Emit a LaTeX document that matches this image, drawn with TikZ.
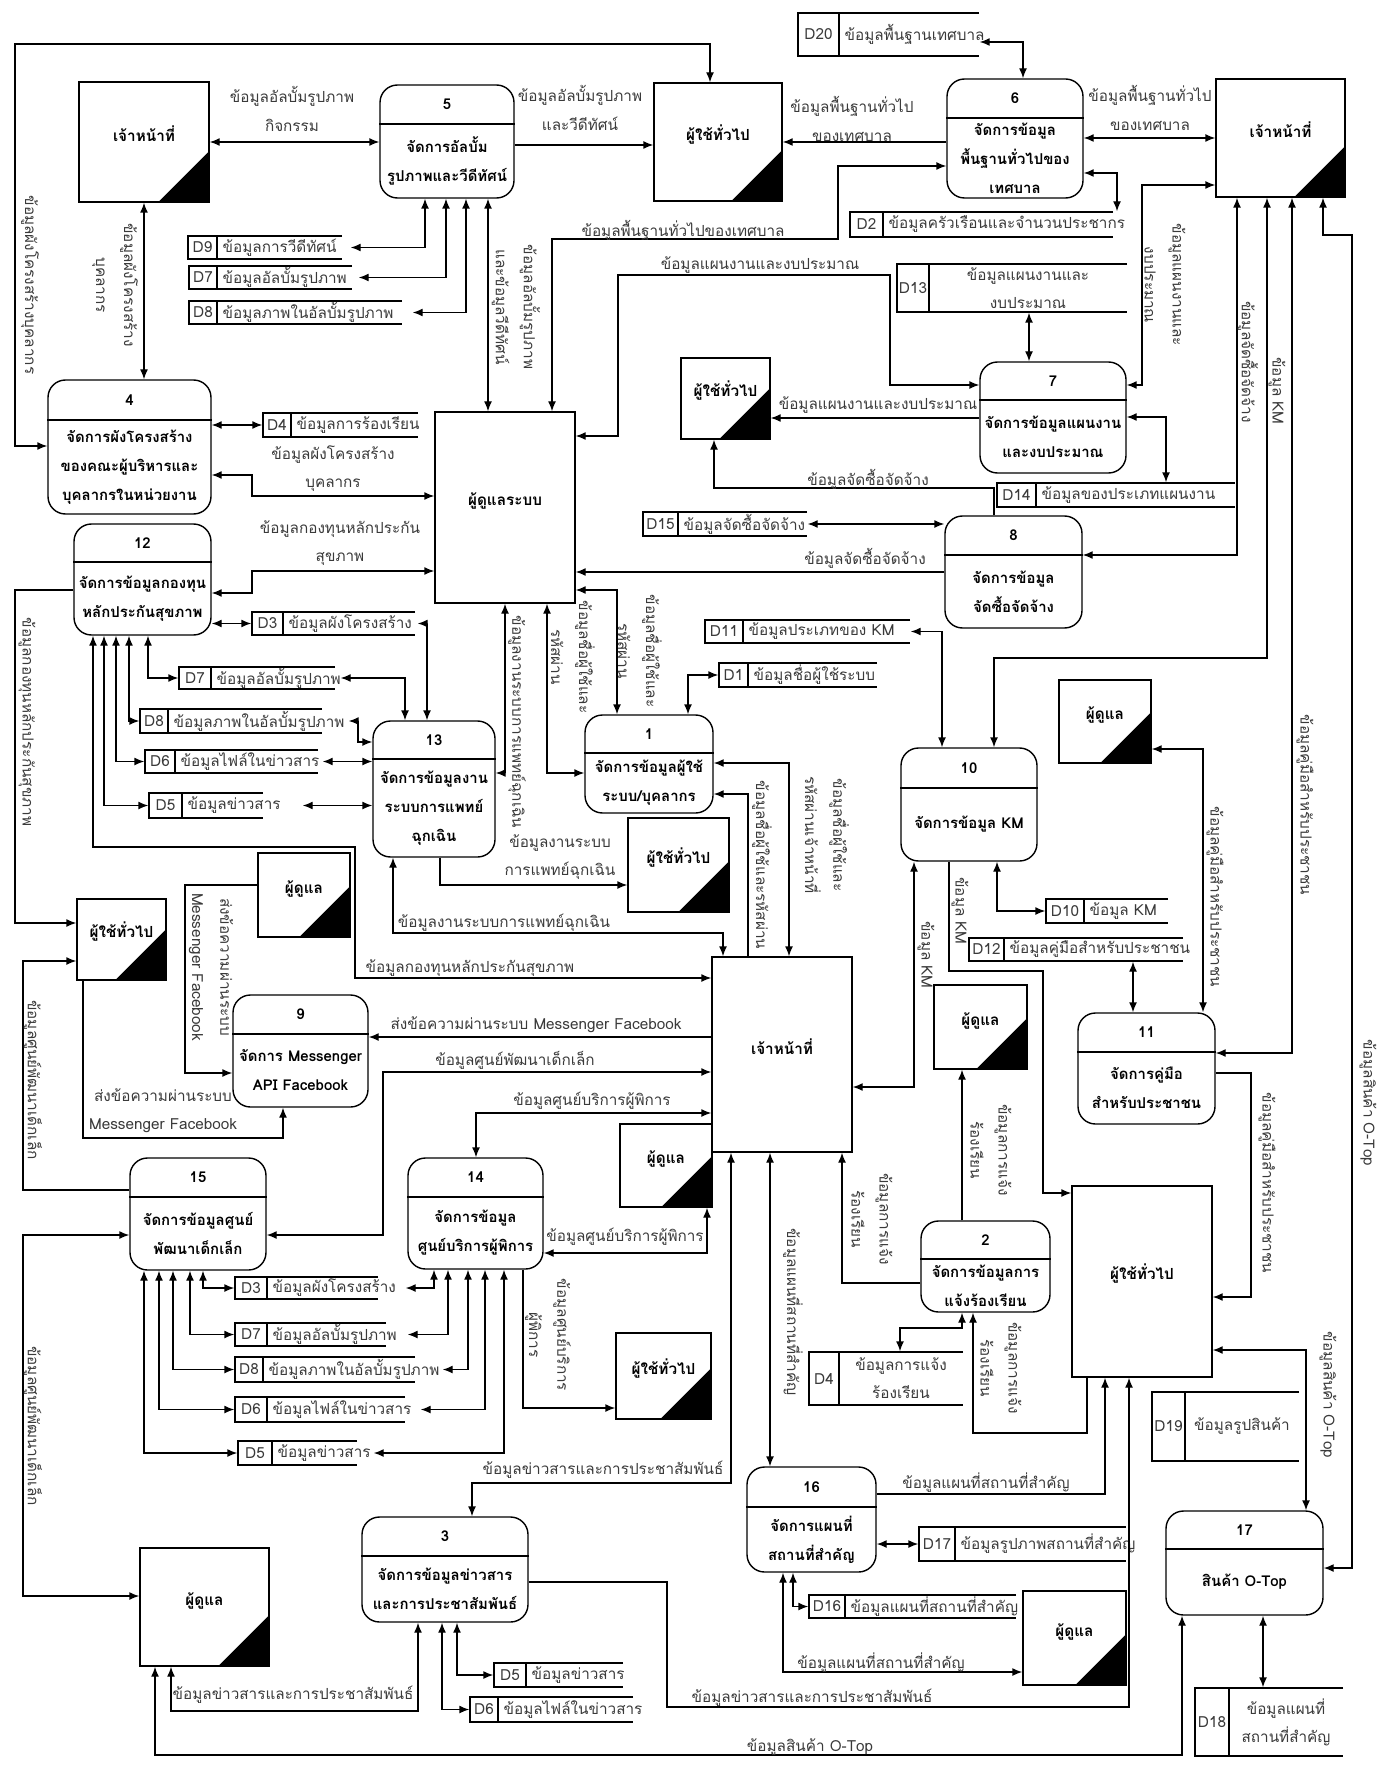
\documentclass[tikz,border=0pt]{standalone}
\usepackage{fontspec}
\newfontfamily\thaifont[Script=Thai]{Loma}
\usepackage{xcolor}
\usepackage{tikz}
\usetikzlibrary{positioning,arrows.meta,fit,calc}
\definecolor{clbl}{HTML}{3A3A3A}

\begin{document}
\begin{tikzpicture}[
  x=0.2mm, y=-0.2mm,
  font=\fontsize{8.7}{16}\selectfont\thaifont,
  line width=0.8pt,
  >={Latex[length=2mm,width=1.6mm]},
  one/.style={->},
  two/.style={<->},
  proc/.style={draw, rounded corners=3.5mm, inner sep=0pt},
  ent/.style={draw, inner sep=0pt, font=\fontsize{8.7}{16}\selectfont\thaifont\bfseries},
  ptxt/.style={align=center, inner sep=0pt, font=\fontsize{8.5}{16.5}\selectfont\thaifont\bfseries},
  lbl/.style={align=center, text=clbl, inner sep=1pt},
  vlbl/.style={lbl, rotate=-90},
  stxt/.style={text=clbl, inner sep=0pt, align=center},
]
\useasboundingbox (0,0) rectangle (1383,1765);

% --- external entities (black corner) ---
\foreach \nm/\xl/\yt/\xr/\yb/\txt in {
  e1/79/82/209/202/เจ้าหน้าที่, e2/654/83/782/201/ผู้ใช้ทั่วไป,
  e3/1216/79/1345/197/เจ้าหน้าที่, e4/681/358/770/439/ผู้ใช้ทั่วไป,
  e6/1059/680/1151/763/ผู้ดูแล, e7/628/818/729/912/ผู้ใช้ทั่วไป,
  e8/258/853/350/937/ผู้ดูแล, e9/77/899/166/980/ผู้ใช้ทั่วไป,
  e11/620/1124/712/1207/ผู้ดูแล, e12/934/985/1027/1069/ผู้ดูแล,
  e14/616/1333/711/1419/ผู้ใช้ทั่วไป, e15/140/1548/269/1666/ผู้ดูแล,
  e16/1023/1591/1126/1685/ผู้ดูแล}{
  \node[ent, fit={(\xl,\yt) (\xr,\yb)}] (\nm) {\txt};
  \fill (\nm.south east) -- ++(-52,0) -- ++(52,-52) -- cycle;
}
% --- plain boxes ---
\foreach \nm/\xl/\yt/\xr/\yb/\txt in {
  e5/435/412/575/603/ผู้ดูแลระบบ, e10/712/957/852/1152/เจ้าหน้าที่,
  e13/1072/1186/1212/1377/ผู้ใช้ทั่วไป}{
  \node[ent, fit={(\xl,\yt) (\xr,\yb)}] (\nm) {\txt};
}

% --- processes ---
\foreach \nm/\xl/\yt/\xr/\yb/\yd/\num/\txt in {
  p1/585/715/713/813/753/1/{จัดการข้อมูลผู้ใช้\\ระบบ\slash บุคลากร},
  p2/921/1221/1050/1312/1259/2/{จัดการข้อมูลการ\\แจ้งร้องเรียน},
  p3/362/1517/528/1622/1556/3/{จัดการข้อมูลข่าวสาร\\และการประชาสัมพันธ์},
  p4/48/380/211/514/420/4/{จัดการผังโครงสร้าง\\ของคณะผู้บริหารและ\\บุคลากรในหน่วยงาน},
  p5/380/85/514/198/124/5/{จัดการอัลบั้ม\\รูปภาพและวีดีทัศน์},
  p6/947/79/1083/198/118/6/{จัดการข้อมูล\\พื้นฐานทั่วไปของ\\เทศบาล},
  p7/980/362/1126/473/400/7/{จัดการข้อมูลแผนงาน\\และงบประมาณ},
  p8/945/516/1082/628/555/8/{จัดการข้อมูล\\จัดซื้อจัดจ้าง},
  p9/233/995/368/1107/1034/9/{จัดการ Messenger\\API Facebook},
  p10/901/748/1037/861/788/10/{จัดการข้อมูล KM},
  p11/1078/1013/1215/1124/1052/11/{จัดการคู่มือ\\สำหรับประชาชน},
  p12/74/524/211/635/562/12/{จัดการข้อมูลกองทุน\\หลักประกันสุขภาพ},
  p13/373/721/495/857/759/13/{จัดการข้อมูลงาน\\ระบบการแพทย์\\ฉุกเฉิน},
  p14/408/1158/543/1269/1197/14/{จัดการข้อมูล\\ศูนย์บริการผู้พิการ},
  p15/130/1158/266/1270/1197/15/{จัดการข้อมูลศูนย์\\พัฒนาเด็กเล็ก},
  p16/747/1467/876/1572/1507/16/{จัดการแผนที่\\สถานที่สำคัญ},
  p17/1166/1511/1323/1615/1549/17/{สินค้า O-Top}}{
  \node[proc, fit={(\xl,\yt) (\xr,\yb)}] (\nm) {};
  \draw (\nm.west |- 0,\yd) -- (\nm.east |- 0,\yd);
  \node[ptxt] (\nm-n) at ({(\xl+\xr)/2},{(\yt+\yd)/2}) {\num};
  \node[ptxt] (\nm-t) at ({(\xl+\xr)/2},{(\yd+\yb)/2}) {\txt};
}

% --- data stores, name after the bar ---
\foreach \nm/\xl/\yt/\xr/\yb/\xd/\id/\txt in {
  d20/798/13/979/56/839/D20/{ข้อมูลพื้นฐานเทศบาล},
  d9/188/236/342/259/217/D9/{ข้อมูลการวีดีทัศน์},
  d7a/189/266/352/289/217/D7/{ข้อมูลอัลบั้มรูปภาพ},
  d8a/189/301/402/324/217/D8/{ข้อมูลภาพในอัลบั้มรูปภาพ},
  d4a/263/413/418/437/291/D4/{ข้อมูลการร้องเรียน},
  d2/850/212/1113/237/883/D2/{ข้อมูลครัวเรือนและจำนวนประชากร},
  d14/997/483/1235/507/1036/D14/{ข้อมูลของประเภทแผนงาน},
  d15/643/512/807/536/678/D15/{ข้อมูลจัดซื้อจัดจ้าง},
  d3a/252/612/415/635/283/D3/{ข้อมูลผังโครงสร้าง},
  d7b/179/667/335/689/211/D7/{ข้อมูลอัลบั้มรูปภาพ},
  d8b/140/709/322/733/168/D8/{ข้อมูลภาพในอัลบั้มรูปภาพ},
  d6a/145/750/318/773/175/D6/{ข้อมูลไฟล์ในข่าวสาร},
  d5a/149/793/263/818/182/D5/{ข้อมูลข่าวสาร},
  d11/705/620/910/643/743/D11/{ข้อมูลประเภทของ KM},
  d1/719/663/877/687/748/D1/{ข้อมูลชื่อผู้ใช้ระบบ},
  d10/1046/899/1168/923/1084/D10/{ข้อมูล KM},
  d12/969/938/1183/961/1004/D12/{ข้อมูลคู่มือสำหรับประชาชน},
  d3b/235/1277/378/1299/267/D3/{ข้อมูลผังโครงสร้าง},
  d7c/235/1323/386/1346/267/D7/{ข้อมูลอัลบั้มรูปภาพ},
  d8c/235/1357/415/1382/263/D8/{ข้อมูลภาพในอัลบั้มรูปภาพ},
  d6b/235/1397/405/1422/267/D6/{ข้อมูลไฟล์ในข่าวสาร},
  d5b/238/1441/357/1465/272/D5/{ข้อมูลข่าวสาร},
  d17/919/1527/1126/1561/955/D17/{ข้อมูลรูปภาพสถานที่สำคัญ},
  d16/809/1595/1016/1618/845/D16/{ข้อมูลแผนที่สถานที่สำคัญ},
  d5c/494/1663/623/1687/526/D5/{ข้อมูลข่าวสาร},
  d6c/470/1697/633/1722/498/D6/{ข้อมูลไฟล์ในข่าวสาร}}{
  \node[inner sep=0pt, fit={(\xl,\yt) (\xr,\yb)}] (\nm) {};
  \draw (\xr,\yt) -- (\xl,\yt) -- (\xl,\yb) -- (\xr,\yb) (\xd,\yt) -- (\xd,\yb);
  \node[stxt] (\nm-i) at ({(\xl+\xd)/2},{(\yt+\yb)/2}) {\id};
  \node[stxt, anchor=west] (\nm-t) at ({\xd+5},{(\yt+\yb)/2}) {\txt};
}
% --- data stores, name centred ---
\foreach \nm/\xl/\yt/\xr/\yb/\xd/\id/\txt in {
  d13/897/264/1127/312/929/D13/{ข้อมูลแผนงานและ\\งบประมาณ},
  d4b/809/1352/963/1405/839/D4/{ข้อมูลการแจ้ง\\ร้องเรียน},
  d19/1152/1392/1299/1461/1185/D19/{ข้อมูลรูปสินค้า},
  d18/1195/1688/1343/1756/1229/D18/{ข้อมูลแผนที่\\สถานที่สำคัญ}}{
  \node[inner sep=0pt, fit={(\xl,\yt) (\xr,\yb)}] (\nm) {};
  \draw (\xr,\yt) -- (\xl,\yt) -- (\xl,\yb) -- (\xr,\yb) (\xd,\yt) -- (\xd,\yb);
  \node[stxt] (\nm-i) at ({(\xl+\xd)/2},{(\yt+\yb)/2}) {\id};
  \node[stxt] (\nm-t) at ({(\xd+\xr)/2},{(\yt+\yb)/2}) {\txt};
}

% --- top band ---
\draw[two] (p4.west |- 0,446) -- (15,446) |- (710,44) -- (e2.north -| 710,0);
\draw[two] (e1.east) -- (e1.east -| p5.west);
\draw[two] (e1.south) -- (e1.south |- p4.north);
\draw[one] (p5.east |- 0,145) -- (e2.west |- 0,145);
\draw[two] (p5.south -| 425,0) |- ([xshift=1.6mm]d9.east);
\draw[two] (p5.south -| 446,0) |- ([xshift=1.2mm]d7a.east);
\draw[two] (p5.south -| 466,0) |- ([xshift=2mm]d8a.east);
\draw[two] (p5.south -| 488,0) -- (e5.north -| 488,0);
\draw[one] (p6.west |- 0,142) -- (e2.east |- 0,142);
\draw[two] ([yshift=-1.5mm]d20.east) -| (p6.north -| 1023,0);
\draw[two] (p6.east |- 0,138) -- (e3.west |- 0,138);
\draw[two] (p6.east |- 0,173) -| (d2.north east -| 1117,0);
\draw[two] (e5.north -| 552,0) |- (838,239) |- (p6.west |- 0,166);
\draw[two] (e5.east |- 0,436) -| (618,275) -| (890,385) -- (p7.west |- 0,385);
\draw[one] (p7.west |- 0,418) -- (e4.east |- 0,418);
\draw[two] (d13.south -| 1029,0) -- (p7.north -| 1029,0);
\draw[two] (p7.east |- 0,385) -| (1142,185) -- (e3.west |- 0,185);
\draw[two] (p7.east |- 0,417) -| (d14.north -| 1166,0);

% --- lines down from e3 ---
\draw[two] (e3.south -| 1237,0) |- (p8.east |- 0,555);
\draw[two] (e3.south -| 1267,0) |- (994,658) -- (p10.north -| 994,0);
\draw[two] (e3.south -| 1292,0) |- (p11.east |- 0,1053);
\draw[two] (e3.south -| 1323,0) |- (1352,235) |- (p17.east |- 0,1568);

% --- middle ---
\draw[two] (d15.east) -- (d15.east -| p8.west);
\draw[one] (p8.north -| 994,0) |- (714,488) -- (e4.south -| 714,0);
\draw[one] (p8.west |- 0,572) -- (e5.east |- 0,572);
\draw[two] (e5.east |- 0,590) -| (p1.north -| 617,0);
\draw[two] (e5.south -| 547,0) |- (p1.west |- 0,773);
\draw[two] (d1.west) -| (p1.north -| 688,0);
\draw[two] (e5.south -| 505,0) |- (p13.east |- 0,773);
\draw[two] (d11.east) -| (p10.north -| 942,0);
\draw[one] (e10.north -| 748,0) |- (p1.east |- 0,794);
\draw[two] (e10.north -| 789,0) |- (p1.east |- 0,763);

% --- left ---
\draw[two] (p4.east |- d4a.west) -- (d4a.west);
\draw[two] (p4.east |- 0,475) -| (252,496) -- (e5.west |- 0,496);
\draw[two] (p12.east |- 0,593) -| (252,571) -- (e5.west |- 0,571);
\draw[two] (p12.east |- d3a.west) -- (d3a.west);
\draw[two] ([xshift=0.4mm]d3a.east) -| (p13.north -| 427,0);
\draw[two] ([xshift=1mm]d7b.east) -| (p13.north -| 405,0);
\draw[two] ([xshift=5.2mm]d8b.east) -| (358,742) -- (p13.west |- 0,742);
\draw[two] ([xshift=0.8mm]d6a.east) -- (p13.west |- d6a.east);
\draw[two] ([xshift=7.8mm]d5a.east) -- (p13.west |- d5a.east);
\draw[two] (p12.south -| 148,0) |- (d7b.west);
\draw[two] (p12.south -| 129,0) |- (d8b.west);
\draw[two] (p12.south -| 116,0) |- (d6a.west);
\draw[two] (p12.south -| 104,0) |- (d5a.west);
\draw[one] (p13.south -| 440,0) |- (e7.west |- 0,885);
\draw[two] (e10.north -| 723,0) |- (393,933) -- (p13.south -| 393,0);
\draw[two] (p12.south -| 93,0) |- (355,847) |- (e10.west |- 0,978);
\draw[one] (e8.west |- 0,885) -| (185,1073) -- (p9.west |- 0,1073);
\draw[one] (p12.west |- 0,590) -| (15,923) -- (e9.west |- 0,923);
\draw[one] (p15.west |- 0,1190) -| (23,961) -- (e9.west |- 0,961);
\draw[one] (e9.south -| 83,0) |- (283,1138) -- (p9.south -| 283,0);
\draw[one] (e10.west |- 0,1037) -- (p9.east |- 0,1037);
\draw[two] (e10.west |- 0,1072) -| (383,1235) -- (p15.east |- 0,1235);
\draw[two] (e10.west |- 0,1113) -| (p14.north -| 476,0);
\draw[two] (p14.east |- 0,1253) -| (e11.south -| 707,0);

% --- bottom ---
\draw[two] (e10.south -| 731,0) |- (472,1483) -- (p3.north -| 472,0);
\draw[two] (e10.south -| 770,0) -- (p16.north -| 770,0);
\draw[one] (p2.west |- 0,1283) -| (e10.south -| 842,0);
\draw[one] (p2.north -| 962,0) -- (e12.south -| 962,0);
\draw[one] (p10.south -| 949,0) |- (1043,971) |- (e13.west |- 0,1193);
\draw[two] (p10.south -| 997,0) |- (d10.west);
\draw[two] (p10.south -| 914,0) |- (e10.east |- 0,1087);
\draw[two] (d12.south -| 1133,0) -- (p11.north -| 1133,0);
\draw[two] (p11.north -| 1203,0) |- (e6.east |- 0,749);
\draw[one] (p11.east |- 0,1073) -| (1251,1297) -- (e13.east |- 0,1297);
\draw[two] (e13.east |- 0,1350) -| (p17.north -| 1306,0);
\draw[two] (p17.south -| 1263,0) -- (d18.north -| 1263,0);
\draw[two] (e15.south -| 155,0) |- (1182,1755) -- (p17.south -| 1182,0);
\draw[two] (p3.south -| 418,0) |- (171,1711) -- (e15.south -| 171,0);
\draw[two] (p15.west |- 0,1235) -| (23,1596) -- (e15.west |- 0,1596);
\draw[two] (p15.south -| 203,0) |- (d3b.west);
\draw[two] (p15.south -| 190,0) |- (d7c.west);
\draw[two] (p15.south -| 173,0) |- (d8c.west);
\draw[two] (p15.south -| 159,0) |- (d6b.west);
\draw[two] (p15.south -| 144,0) |- (d5b.west);
\draw[two] (p14.south -| 434,0) |- ([xshift=5.4mm]d3b.east);
\draw[two] (p14.south -| 448,0) |- ([xshift=4.2mm]d7c.east);
\draw[two] (p14.south -| 468,0) |- ([xshift=5.4mm]d8c.east);
\draw[two] (p14.south -| 485,0) |- ([xshift=3mm]d6b.east);
\draw[two] (p14.south -| 504,0) |- ([xshift=3.2mm]d5b.east);
\draw[one] (p14.south -| 523,0) |- (e14.west |- 0,1408);
\draw[two] (p3.south -| 457,0) |- (d5c.west);
\draw[two] (p3.south -| 442,0) |- (d6c.west);
\draw[one] (p3.east |- 0,1582) -| (667,1707) -| (e13.south -| 1129,0);
\draw[one] (p16.east |- 0,1494) -| (e13.south -| 1105,0);
\draw[two] (p16.east |- d17.west) -- (d17.west);
\draw[two] (p16.south -| 793,0) |- (d16.west);
\draw[two] (p16.south -| 783,0) |- (e16.west |- 0,1672);
\draw[two] (p2.south -| 962,0) |- (900,1328) -- (d4b.north -| 900,0);
\draw[one] (e13.south -| 1087,0) |- (973,1433) -- (p2.south -| 973,0);

% --- flow labels ---
\node[vlbl] (l1) at (30,285) {ข้อมูลผังโครงสร้างบุคลากร};
\node[lbl] (l2) at (292,109) {ข้อมูลอัลบั้มรูปภาพ\\กิจกรรม};
\node[vlbl] (l3) at (115,285) {ข้อมูลผังโครงสร้าง\\บุคลากร};
\node[lbl] (l4) at (580,108) {ข้อมูลอัลบั้มรูปภาพ\\และวีดีทัศน์};
\node[vlbl] (l8) at (516,307) {ข้อมูลอัลบั้มรูปภาพ\\และข้อมูลวีดีทัศน์};
\node[lbl] (l9) at (852,119) {ข้อมูลพื้นฐานทั่วไป\\ของเทศบาล};
\node[lbl] (l11) at (1150,108) {ข้อมูลพื้นฐานทั่วไป\\ของเทศบาล};
\node[lbl] (l13) at (683,230) {ข้อมูลพื้นฐานทั่วไปของเทศบาล};
\node[lbl] (l14) at (760,265) {ข้อมูลแผนงานและงบประมาณ};
\node[lbl] (l15) at (878,405) {ข้อมูลแผนงานและงบประมาณ};
\node[vlbl] (l17) at (1165,285) {ข้อมูลแผนงานและ\\งบประมาณ};
\node[vlbl] (l18) at (1248,362) {ข้อมูลจัดซื้อจัดจ้าง};
\node[vlbl] (l19) at (1277,391) {ข้อมูล KM};
\node[vlbl] (l20) at (1305,805) {ข้อมูลคู่มือสำหรับประชาชน};
\node[vlbl] (l21) at (1368,1103) {ข้อมูลสินค้า O-Top};
\node[lbl] (l22) at (868,479) {ข้อมูลจัดซื้อจัดจ้าง};
\node[lbl] (l23) at (865,558) {ข้อมูลจัดซื้อจัดจ้าง};
\node[vlbl] (l24) at (640,651) {ข้อมูลชื่อผู้ใช้และ\\รหัสผ่าน};
\node[vlbl] (l25) at (573,657) {ข้อมูลชื่อผู้ใช้และ\\รหัสผ่าน};
\node[vlbl] (l26) at (517,722) {ข้อมูลงานระบบการแพทย์ฉุกเฉิน};
\node[vlbl] (l27) at (762,865) {ข้อมูลชื่อผู้ใช้และรหัสผ่าน};
\node[vlbl] (l28) at (827,835) {ข้อมูลชื่อผู้ใช้และ\\รหัสผ่านเจ้าหน้าที่};
\node[lbl] (l29) at (560,857) {ข้อมูลงานระบบ\\การแพทย์ฉุกเฉิน};
\node[lbl] (l30) at (504,923) {ข้อมูลงานระบบการแพทย์ฉุกเฉิน};
\node[lbl] (l31) at (470,968) {ข้อมูลกองทุนหลักประกันสุขภาพ};
\node[vlbl] (l32) at (211,967) {ส่งข้อความผ่านระบบ\\Messenger Facebook};
\node[vlbl] (l33) at (27,722) {ข้อมูลกองทุนหลักประกันสุขภาพ};
\node[vlbl] (l34) at (33,1080) {ข้อมูลศูนย์พัฒนาเด็กเล็ก};
\node[lbl] (l35) at (163,1111) {ส่งข้อความผ่านระบบ\\Messenger Facebook};
\node[lbl] (l36) at (536,1025) {ส่งข้อความผ่านระบบ Messenger Facebook};
\node[lbl] (l37) at (515,1060) {ข้อมูลศูนย์พัฒนาเด็กเล็ก};
\node[lbl] (l38) at (592,1101) {ข้อมูลศูนย์บริการผู้พิการ};
\node[lbl] (l39) at (625,1237) {ข้อมูลศูนย์บริการผู้พิการ};
\node[lbl] (l40) at (603,1470) {ข้อมูลข่าวสารและการประชาสัมพันธ์};
\node[vlbl] (l41) at (793,1312) {ข้อมูลแผนที่สถานที่สำคัญ};
\node[vlbl] (l42) at (872,1219) {ข้อมูลการแจ้ง\\ร้องเรียน};
\node[vlbl] (l43) at (991,1150) {ข้อมูลการแจ้ง\\ร้องเรียน};
\node[vlbl] (l44) at (960,911) {ข้อมูล KM};
\node[vlbl] (l45) at (926,955) {ข้อมูล KM};
\node[vlbl] (l46) at (1215,897) {ข้อมูลคู่มือสำหรับประชาชน};
\node[vlbl] (l47) at (1267,1183) {ข้อมูลคู่มือสำหรับประชาชน};
\node[vlbl] (l48) at (1328,1395) {ข้อมูลสินค้า O-Top};
\node[lbl] (l49) at (810,1747) {ข้อมูลสินค้า O-Top};
\node[lbl] (l50) at (293,1695) {ข้อมูลข่าวสารและการประชาสัมพันธ์};
\node[vlbl] (l51) at (33,1426) {ข้อมูลศูนย์พัฒนาเด็กเล็ก};
\node[vlbl] (l52) at (548,1335) {ข้อมูลศูนย์บริการ\\ผู้พิการ};
\node[lbl] (l53) at (812,1698) {ข้อมูลข่าวสารและการประชาสัมพันธ์};
\node[lbl] (l54) at (986,1483) {ข้อมูลแผนที่สถานที่สำคัญ};
\node[lbl] (l55) at (881,1663) {ข้อมูลแผนที่สถานที่สำคัญ};
\node[vlbl] (l56) at (1001,1368) {ข้อมูลการแจ้ง\\ร้องเรียน};
\node[lbl] (l57) at (333,469) {ข้อมูลผังโครงสร้าง\\บุคลากร};
\node[lbl] (l58) at (340,543) {ข้อมูลกองทุนหลักประกัน\\สุขภาพ};
\end{tikzpicture}
\end{document}
